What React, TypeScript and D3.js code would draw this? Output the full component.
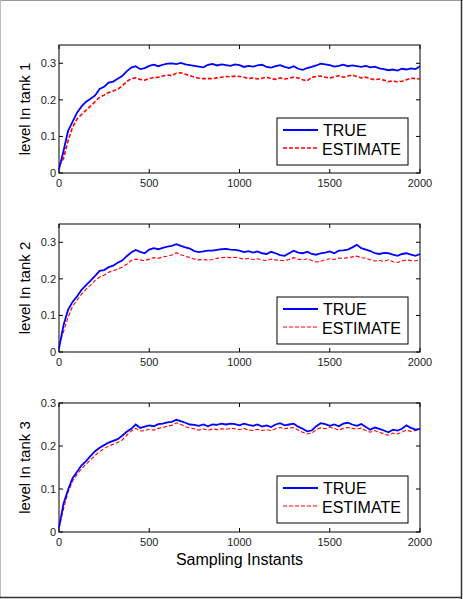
import React from "react";
import * as d3 from "d3";

// sampling instants, every 25 samples
const samples = d3.range(0, 2001, 25);

const tank1True = [
  0.010, 0.060, 0.115, 0.140, 0.165, 0.182, 0.195, 0.203, 0.212, 0.230, 0.236, 0.247, 0.250, 0.258, 0.265, 0.278,
  0.288, 0.292, 0.284, 0.287, 0.293, 0.296, 0.292, 0.296, 0.299, 0.300, 0.298, 0.301, 0.297, 0.295, 0.293, 0.291,
  0.289, 0.296, 0.298, 0.294, 0.297, 0.295, 0.293, 0.297, 0.295, 0.290, 0.293, 0.291, 0.294, 0.296, 0.290, 0.288,
  0.292, 0.295, 0.290, 0.287, 0.292, 0.285, 0.282, 0.287, 0.290, 0.294, 0.299, 0.297, 0.295, 0.291, 0.293, 0.296,
  0.292, 0.294, 0.292, 0.290, 0.293, 0.289, 0.291, 0.286, 0.284, 0.281, 0.283, 0.280, 0.285, 0.283, 0.286, 0.284,
  0.292,
];
const tank1Est = [
  0.020, 0.040, 0.088, 0.125, 0.148, 0.160, 0.172, 0.183, 0.195, 0.207, 0.213, 0.220, 0.224, 0.229, 0.238, 0.250,
  0.258, 0.260, 0.256, 0.254, 0.258, 0.261, 0.262, 0.265, 0.268, 0.266, 0.273, 0.274, 0.270, 0.266, 0.262, 0.259,
  0.258, 0.258, 0.258, 0.260, 0.262, 0.264, 0.263, 0.265, 0.264, 0.262, 0.258, 0.260, 0.257, 0.259, 0.262, 0.258,
  0.256, 0.260, 0.257, 0.259, 0.262, 0.260, 0.255, 0.252, 0.262, 0.264, 0.265, 0.262, 0.260, 0.263, 0.266, 0.262,
  0.265, 0.268, 0.264, 0.260, 0.262, 0.258, 0.255, 0.257, 0.254, 0.250, 0.252, 0.249, 0.251, 0.255, 0.259, 0.258,
  0.257,
];
const tank2True = [
  0.010, 0.073, 0.115, 0.137, 0.152, 0.170, 0.183, 0.195, 0.208, 0.222, 0.224, 0.232, 0.236, 0.244, 0.250, 0.262,
  0.272, 0.279, 0.274, 0.270, 0.280, 0.284, 0.281, 0.285, 0.288, 0.290, 0.295, 0.290, 0.286, 0.283, 0.276, 0.273,
  0.275, 0.277, 0.277, 0.279, 0.281, 0.282, 0.280, 0.279, 0.277, 0.273, 0.276, 0.272, 0.275, 0.270, 0.268, 0.274,
  0.270, 0.265, 0.263, 0.270, 0.277, 0.272, 0.270, 0.274, 0.268, 0.266, 0.270, 0.272, 0.275, 0.270, 0.277, 0.278,
  0.280, 0.286, 0.293, 0.284, 0.280, 0.276, 0.270, 0.268, 0.271, 0.270, 0.266, 0.263, 0.268, 0.270, 0.266, 0.263,
  0.268,
];
const tank2Est = [
  0.020, 0.055, 0.095, 0.125, 0.142, 0.158, 0.172, 0.183, 0.196, 0.205, 0.210, 0.218, 0.222, 0.227, 0.232, 0.240,
  0.250, 0.254, 0.252, 0.250, 0.254, 0.258, 0.256, 0.260, 0.262, 0.265, 0.271, 0.266, 0.262, 0.258, 0.254, 0.252,
  0.253, 0.251, 0.253, 0.256, 0.258, 0.259, 0.258, 0.259, 0.257, 0.254, 0.256, 0.253, 0.255, 0.252, 0.250, 0.254,
  0.252, 0.250, 0.250, 0.253, 0.258, 0.254, 0.252, 0.255, 0.250, 0.246, 0.248, 0.252, 0.255, 0.253, 0.257, 0.256,
  0.258, 0.260, 0.262, 0.258, 0.256, 0.252, 0.249, 0.250, 0.248, 0.252, 0.247, 0.245, 0.249, 0.252, 0.250, 0.249,
  0.253,
];
const tank3True = [
  0.010, 0.066, 0.098, 0.125, 0.140, 0.155, 0.165, 0.177, 0.188, 0.196, 0.202, 0.208, 0.212, 0.216, 0.224, 0.233,
  0.240, 0.250, 0.242, 0.245, 0.248, 0.246, 0.251, 0.252, 0.255, 0.256, 0.261, 0.258, 0.254, 0.250, 0.249, 0.247,
  0.250, 0.246, 0.250, 0.249, 0.252, 0.250, 0.252, 0.251, 0.248, 0.252, 0.249, 0.247, 0.250, 0.245, 0.248, 0.244,
  0.250, 0.253, 0.248, 0.250, 0.252, 0.245, 0.240, 0.234, 0.236, 0.246, 0.253, 0.251, 0.247, 0.250, 0.246, 0.252,
  0.254, 0.250, 0.247, 0.251, 0.244, 0.238, 0.243, 0.240, 0.236, 0.232, 0.238, 0.236, 0.240, 0.248, 0.242, 0.238,
  0.240,
];
const tank3Est = [
  0.008, 0.054, 0.092, 0.118, 0.134, 0.147, 0.158, 0.168, 0.178, 0.187, 0.194, 0.200, 0.204, 0.208, 0.214, 0.225,
  0.235, 0.241, 0.235, 0.236, 0.239, 0.237, 0.241, 0.243, 0.246, 0.248, 0.254, 0.250, 0.245, 0.242, 0.240, 0.237,
  0.240, 0.236, 0.240, 0.238, 0.240, 0.239, 0.241, 0.240, 0.238, 0.241, 0.237, 0.236, 0.239, 0.236, 0.238, 0.236,
  0.240, 0.243, 0.240, 0.242, 0.243, 0.237, 0.232, 0.228, 0.230, 0.238, 0.242, 0.240, 0.244, 0.241, 0.237, 0.241,
  0.243, 0.241, 0.239, 0.242, 0.236, 0.232, 0.236, 0.232, 0.228, 0.225, 0.230, 0.228, 0.232, 0.237, 0.234, 0.236,
  0.237,
];

const xTicks = [0, 500, 1000, 1500, 2000];
const yTicks = [0, 0.1, 0.2, 0.3];
const yLabels = ["level In tank 1", "level In tank 2", "level In tank 3"];
const seriesNames = ["TRUE", "ESTIMATE"];

const W = 463;
const H = 599;
const FONT = "Arial, 'Liberation Sans', sans-serif";

const panels = [
  { top: 45, bottom: 173, yMax: 0.35, tru: tank1True, est: tank1Est, estWidth: 1.6 },
  { top: 224, bottom: 352, yMax: 0.35, tru: tank2True, est: tank2Est, estWidth: 1.1 },
  { top: 403, bottom: 532, yMax: 0.3, tru: tank3True, est: tank3Est, estWidth: 1.1 },
];

const x = d3.scaleLinear().domain([0, 2000]).range([59, 420]);

const Panel = ({ p, label, showX }: any) => {
  const y = d3.scaleLinear().domain([0, p.yMax]).range([p.bottom, p.top]);
  const line = d3
    .line<number>()
    .x((d, i) => x(samples[i]))
    .y(d => y(d));
  const [x0, x1] = x.range();
  const lgTop = p.top + 73;
  return (
    <g>
      <rect x={x0} y={p.top} width={x1 - x0} height={p.bottom - p.top} fill="#fff" stroke="#000" strokeWidth={1} />
      {xTicks.map(t => (
        <g key={"x" + t}>
          <line x1={x(t)} x2={x(t)} y1={p.bottom} y2={p.bottom - 4} stroke="#000" />
          <line x1={x(t)} x2={x(t)} y1={p.top} y2={p.top + 4} stroke="#000" />
          <text x={x(t)} y={p.bottom + 14} textAnchor="middle" fontSize={11} fill="#222" fontFamily={FONT}>
            {t}
          </text>
        </g>
      ))}
      {yTicks.map(t => (
        <g key={"y" + t}>
          <line x1={x0} x2={x0 + 4} y1={y(t)} y2={y(t)} stroke="#000" />
          <line x1={x1} x2={x1 - 4} y1={y(t)} y2={y(t)} stroke="#000" />
          <text x={x0 - 3} y={y(t) + 4} textAnchor="end" fontSize={11} fill="#222" fontFamily={FONT}>
            {t}
          </text>
        </g>
      ))}
      <g>
        <path d={line(p.est) || ""} fill="none" stroke="#ff0000" strokeWidth={p.estWidth} strokeDasharray="4 2" />
        <path d={line(p.tru) || ""} fill="none" stroke="#0000ff" strokeWidth={1.8} />
      </g>
      <text
        transform={`translate(30,${(p.top + p.bottom) / 2}) rotate(-90)`}
        textAnchor="middle"
        fontSize={15}
        fill="#000"
        fontFamily={FONT}
      >
        {label}
      </text>
      <rect x={277} y={lgTop} width={131} height={47} fill="#fff" stroke="#000" strokeWidth={1} />
      <line x1={283} x2={318} y1={lgTop + 12} y2={lgTop + 12} stroke="#0000ff" strokeWidth={1.8} />
      <line
        x1={283}
        x2={318}
        y1={lgTop + 30}
        y2={lgTop + 30}
        stroke="#ff0000"
        strokeWidth={p.estWidth}
        strokeDasharray="4 2"
      />
      <text x={323} y={lgTop + 18} fontSize={16} fill="#000" fontFamily={FONT}>
        {seriesNames[0]}
      </text>
      <text x={322} y={lgTop + 37} fontSize={16} fill="#000" fontFamily={FONT}>
        {seriesNames[1]}
      </text>
      {showX && (
        <text x={(x0 + x1) / 2} y={565} textAnchor="middle" fontSize={16} fill="#000" fontFamily={FONT}>
          Sampling Instants
        </text>
      )}
    </g>
  );
};

export default function App() {
  return (
    <svg width={W} height={H} style={{ position: "absolute", left: 0, top: 0, background: "#fff" }}>
      <rect x={0} y={0} width={W} height={H} fill="#fff" />
      <line x1={0} x2={W} y1={0.5} y2={0.5} stroke="#999" />
      <line x1={0.5} x2={0.5} y1={0} y2={598} stroke="#bbb" />
      <line x1={461.5} x2={461.5} y1={0} y2={599} stroke="#333" strokeWidth={1.5} />
      <line x1={0} x2={462} y1={597.5} y2={597.5} stroke="#333" strokeWidth={1.5} />
      {panels.map((p, i) => (
        <Panel key={i} p={p} label={yLabels[i]} showX={i === 2} />
      ))}
    </svg>
  );
}
